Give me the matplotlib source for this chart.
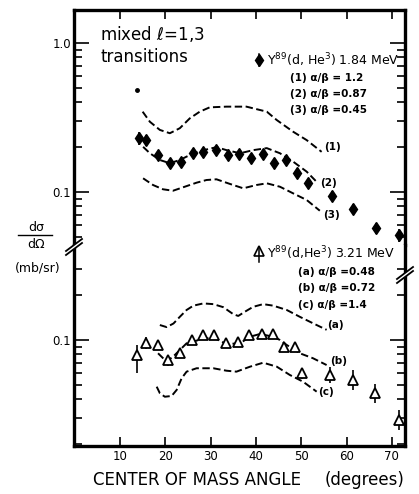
import matplotlib
matplotlib.use("Agg")
import matplotlib.pyplot as plt
from matplotlib.lines import Line2D
from matplotlib.patches import Polygon
from matplotlib.ticker import FixedLocator, FixedFormatter, NullFormatter

plt.rcParams['font.family'] = 'DejaVu Sans'

# ---- data: Y89(d,He3) 1.84 MeV (upper panel) ----
ang_184 = [14.2, 15.7, 18.4, 21.0, 23.5, 26.1, 28.3, 31.2, 33.8, 36.2, 38.9,
           41.5, 43.9, 46.6, 49.0, 51.5, 56.8, 61.4, 66.5, 71.5]
xs_184 = [0.230, 0.223, 0.177, 0.157, 0.159, 0.183, 0.186, 0.191, 0.177, 0.180,
          0.169, 0.180, 0.157, 0.164, 0.134, 0.115, 0.094, 0.0769, 0.0573, 0.0514]
err_184 = [0.022, 0.020, 0.010, 0.009, 0.009, 0.010, 0.010, 0.010, 0.009, 0.009,
           0.009, 0.010, 0.009, 0.009, 0.008, 0.007, 0.007, 0.006, 0.005, 0.005]
ang_dot = [13.7]
xs_dot = [0.484]

ang_c1 = [15.0, 16.6, 18.8, 21.0, 23.2, 25.4, 27.6, 29.8, 33.5, 37.9, 42.4,
          44.6, 48.2, 51.2, 54.5]
xs_c1 = [0.346, 0.296, 0.261, 0.248, 0.268, 0.312, 0.346, 0.370, 0.374, 0.374,
         0.346, 0.304, 0.254, 0.223, 0.186]
ang_c2 = [15.1, 16.6, 18.8, 21.0, 23.2, 26.2, 29.1, 31.3, 33.5, 36.5, 39.4,
          42.4, 45.3, 48.2, 51.2, 53.4]
xs_c2 = [0.201, 0.182, 0.164, 0.156, 0.164, 0.182, 0.193, 0.200, 0.191, 0.182,
         0.191, 0.197, 0.182, 0.160, 0.137, 0.117]
ang_c3 = [15.1, 17.3, 19.5, 21.7, 23.9, 26.9, 29.1, 31.3, 34.3, 37.2, 40.1,
          42.4, 45.3, 48.2, 51.2, 54.1]
xs_c3 = [0.1236, 0.1114, 0.1043, 0.1020, 0.1075, 0.1155, 0.1204, 0.1217, 0.1132,
         0.1059, 0.1114, 0.1144, 0.1085, 0.0980, 0.0884, 0.0749]

# ---- data: Y89(d,He3) 3.21 MeV (lower panel) ----
ang_321 = [13.8, 15.7, 18.4, 20.6, 23.2, 25.9, 28.3, 30.7, 33.4, 36.0, 38.4,
           41.3, 43.7, 46.2, 48.6, 50.2, 56.3, 61.4, 66.3, 71.5]
xs_321 = [0.0793, 0.0955, 0.0926, 0.0734, 0.0818, 0.100, 0.108, 0.108, 0.0955,
          0.0970, 0.108, 0.110, 0.110, 0.0898, 0.0898, 0.060, 0.0582, 0.054,
          0.044, 0.029]
err_lo_321 = [0.019, 0.008, 0.007, 0.006, 0.006, 0.007, 0.007, 0.007, 0.006,
              0.006, 0.007, 0.007, 0.007, 0.006, 0.006, 0.005, 0.007, 0.008,
              0.006, 0.004]
err_hi_321 = [0.013, 0.009, 0.007, 0.006, 0.007, 0.008, 0.008, 0.008, 0.007,
              0.007, 0.008, 0.008, 0.008, 0.007, 0.007, 0.005, 0.008, 0.009,
              0.007, 0.005]

ang_ca = [18.8, 20.3, 21.8, 23.2, 24.7, 26.2, 28.4, 30.6, 32.8, 35.0, 36.1,
          37.6, 39.4, 41.6, 43.8, 46.8, 49.7, 52.7, 55.6]
xs_ca = [0.126, 0.122, 0.129, 0.143, 0.159, 0.170, 0.176, 0.174, 0.166, 0.149,
         0.145, 0.155, 0.167, 0.174, 0.170, 0.159, 0.143, 0.129, 0.117]
ang_cb = [18.4, 20.3, 22.1, 24.7, 26.2, 28.4, 30.9, 33.5, 36.5, 38.7, 40.9,
          43.8, 45.3, 46.8, 49.7, 52.6, 55.6]
xs_cb = [0.0814, 0.0715, 0.0793, 0.0950, 0.0974, 0.1026, 0.1026, 0.0940, 0.0950,
         0.1052, 0.1097, 0.1052, 0.100, 0.0926, 0.0814, 0.0754, 0.0679]
ang_cc = [18.1, 18.8, 19.9, 21.4, 22.5, 23.6, 24.7, 26.9, 30.6, 33.5, 35.7,
          38.7, 41.6, 44.6, 47.5, 50.4, 53.4]
xs_cc = [0.0486, 0.0439, 0.0416, 0.0421, 0.0462, 0.0553, 0.0613, 0.0646, 0.0646,
         0.0622, 0.0613, 0.0662, 0.0704, 0.0662, 0.0582, 0.0525, 0.0450]

xticks = [10, 20, 30, 40, 50, 60, 70]

W, H = 419, 494


def fx(x):
    return x / W


def fy(y):
    return 1 - y / H


fig = plt.figure(figsize=(W / 100, H / 100), dpi=100)
left, right, top, split, bottom = 74, 405, 10, 245, 446
ax1 = fig.add_axes([fx(left), fy(split), fx(right) - fx(left), fy(top) - fy(split)])
ax2 = fig.add_axes([fx(left), fy(bottom), fx(right) - fx(left), fy(split) - fy(bottom)])

dash = (0, (3.8, 1.8))
for ax in (ax1, ax2):
    ax.set_yscale('log')
    ax.set_xlim(-0.15, 72.9)
    for s in ax.spines.values():
        s.set_linewidth(2.4)
    ax.xaxis.set_major_locator(FixedLocator(xticks))
    ax.tick_params(axis='both', which='both', direction='in', width=1.2,
                   left=True, right=True, labelsize=8.5)
    ax.tick_params(axis='y', which='major', length=11, pad=2)
    ax.tick_params(axis='y', which='minor', length=5.5)
    ax.tick_params(axis='x', which='major', length=6.5)

# upper panel
ax1.set_ylim(0.0441, 1.665)
ax1.spines['bottom'].set_visible(False)
ax1.tick_params(axis='x', top=True, bottom=False, labelbottom=False)
ax1.yaxis.set_major_locator(FixedLocator([1.0, 0.1]))
ax1.yaxis.set_major_formatter(FixedFormatter(['1.0', '0.1']))
ax1.yaxis.set_minor_locator(FixedLocator([0.2, 0.3, 0.4, 0.5, 0.6, 0.7, 0.8, 0.9,
                                          0.05, 0.06, 0.07, 0.08, 0.09]))
ax1.yaxis.set_minor_formatter(NullFormatter())

ax1.errorbar(ang_184, xs_184, yerr=err_184, fmt='d', color='k', ms=6,
             elinewidth=1.2, capsize=0)
ax1.plot(ang_dot, xs_dot, 'o', color='k', ms=2.5)
for a, v in ((ang_c1, xs_c1), (ang_c2, xs_c2), (ang_c3, xs_c3)):
    ax1.plot(a, v, color='k', lw=1.4, ls=dash)

# lower panel
ax2.set_ylim(0.01943, 0.434)
ax2.spines['top'].set_visible(False)
ax2.tick_params(axis='x', top=False, bottom=True, labelbottom=True, pad=3)
ax2.yaxis.set_major_locator(FixedLocator([0.1]))
ax2.yaxis.set_major_formatter(FixedFormatter(['0.1']))
ax2.yaxis.set_minor_locator(FixedLocator([0.2, 0.3, 0.02, 0.03, 0.04, 0.05,
                                          0.06, 0.07, 0.08, 0.09]))
ax2.yaxis.set_minor_formatter(NullFormatter())

ax2.errorbar(ang_321, xs_321, yerr=[err_lo_321, err_hi_321], fmt='^', color='k',
             mfc='white', mec='k', mew=1.3, ms=7, elinewidth=1.2, capsize=0)
for a, v in ((ang_ca, xs_ca), (ang_cb, xs_cb), (ang_cc, xs_cc)):
    ax2.plot(a, v, color='k', lw=1.4, ls=dash)

# axis break marks
for (bx, by) in ((74, 245), (405, 273)):
    poly = Polygon([(fx(bx - 7), fy(by + 5)), (fx(bx + 7), fy(by - 5)),
                    (fx(bx + 7), fy(by - 1)), (fx(bx - 7), fy(by + 9))],
                   closed=True, transform=fig.transFigure, fc='white', ec='none',
                   zorder=10)
    fig.add_artist(poly)
    for d in (0, 4):
        fig.add_artist(Line2D([fx(bx - 8), fx(bx + 8)],
                              [fy(by + 6 + d), fy(by - 6 + d)], color='k',
                              lw=1.3, zorder=11))

# texts
fig.text(fx(100), fy(34), r'mixed $\ell$=1,3', fontsize=12, va='center')
fig.text(fx(100), fy(57), 'transitions', fontsize=12, va='center')

fig.add_artist(Line2D([fx(259)], [fy(60)], marker='d', color='k', ms=6))
fig.add_artist(Line2D([fx(259), fx(259)], [fy(54), fy(66)], color='k', lw=1.1))
fig.text(fx(267), fy(60), 'Y$^{89}$(d, He$^3$) 1.84 MeV', fontsize=9, va='center')
fig.text(fx(290), fy(78), '(1) α/β = 1.2', fontsize=7.5, weight='bold', va='center')
fig.text(fx(290), fy(94), '(2) α/β =0.87', fontsize=7.5, weight='bold', va='center')
fig.text(fx(290), fy(110), '(3) α/β =0.45', fontsize=7.5, weight='bold', va='center')

fig.add_artist(Line2D([fx(259)], [fy(251)], marker='^', color='k', mfc='white',
                      mew=1.2, ms=7))
fig.add_artist(Line2D([fx(259), fx(259)], [fy(247), fy(262)], color='k', lw=1.1))
fig.text(fx(267), fy(253), 'Y$^{89}$(d,He$^3$) 3.21 MeV', fontsize=9, va='center')
fig.text(fx(298), fy(272), '(a) α/β =0.48', fontsize=7.5, weight='bold', va='center')
fig.text(fx(298), fy(288), '(b) α/β =0.72', fontsize=7.5, weight='bold', va='center')
fig.text(fx(298), fy(305), '(c) α/β =1.4', fontsize=7.5, weight='bold', va='center')

for lab, x, y in (('(1)', 324, 147), ('(2)', 320, 183), ('(3)', 323, 215),
                  ('(a)', 327, 325), ('(b)', 330, 361), ('(c)', 318, 392)):
    fig.text(fx(x), fy(y), lab, fontsize=7.5, weight='bold', va='center')

# y label
fig.text(fx(36), fy(227), 'dσ', fontsize=9, ha='center', va='center')
fig.add_artist(Line2D([fx(18), fx(52)], [fy(235), fy(235)], color='k', lw=1.0))
fig.text(fx(36), fy(244), 'dΩ', fontsize=9, ha='center', va='center')
fig.text(fx(38), fy(268), '(mb/sr)', fontsize=9, ha='center', va='center')

# x label
fig.text(fx(93), fy(480), 'CENTER OF MASS ANGLE', fontsize=12, va='center')
fig.text(fx(404), fy(480), '(degrees)', fontsize=12, ha='right', va='center')

fig.savefig('out.png', dpi=100)
